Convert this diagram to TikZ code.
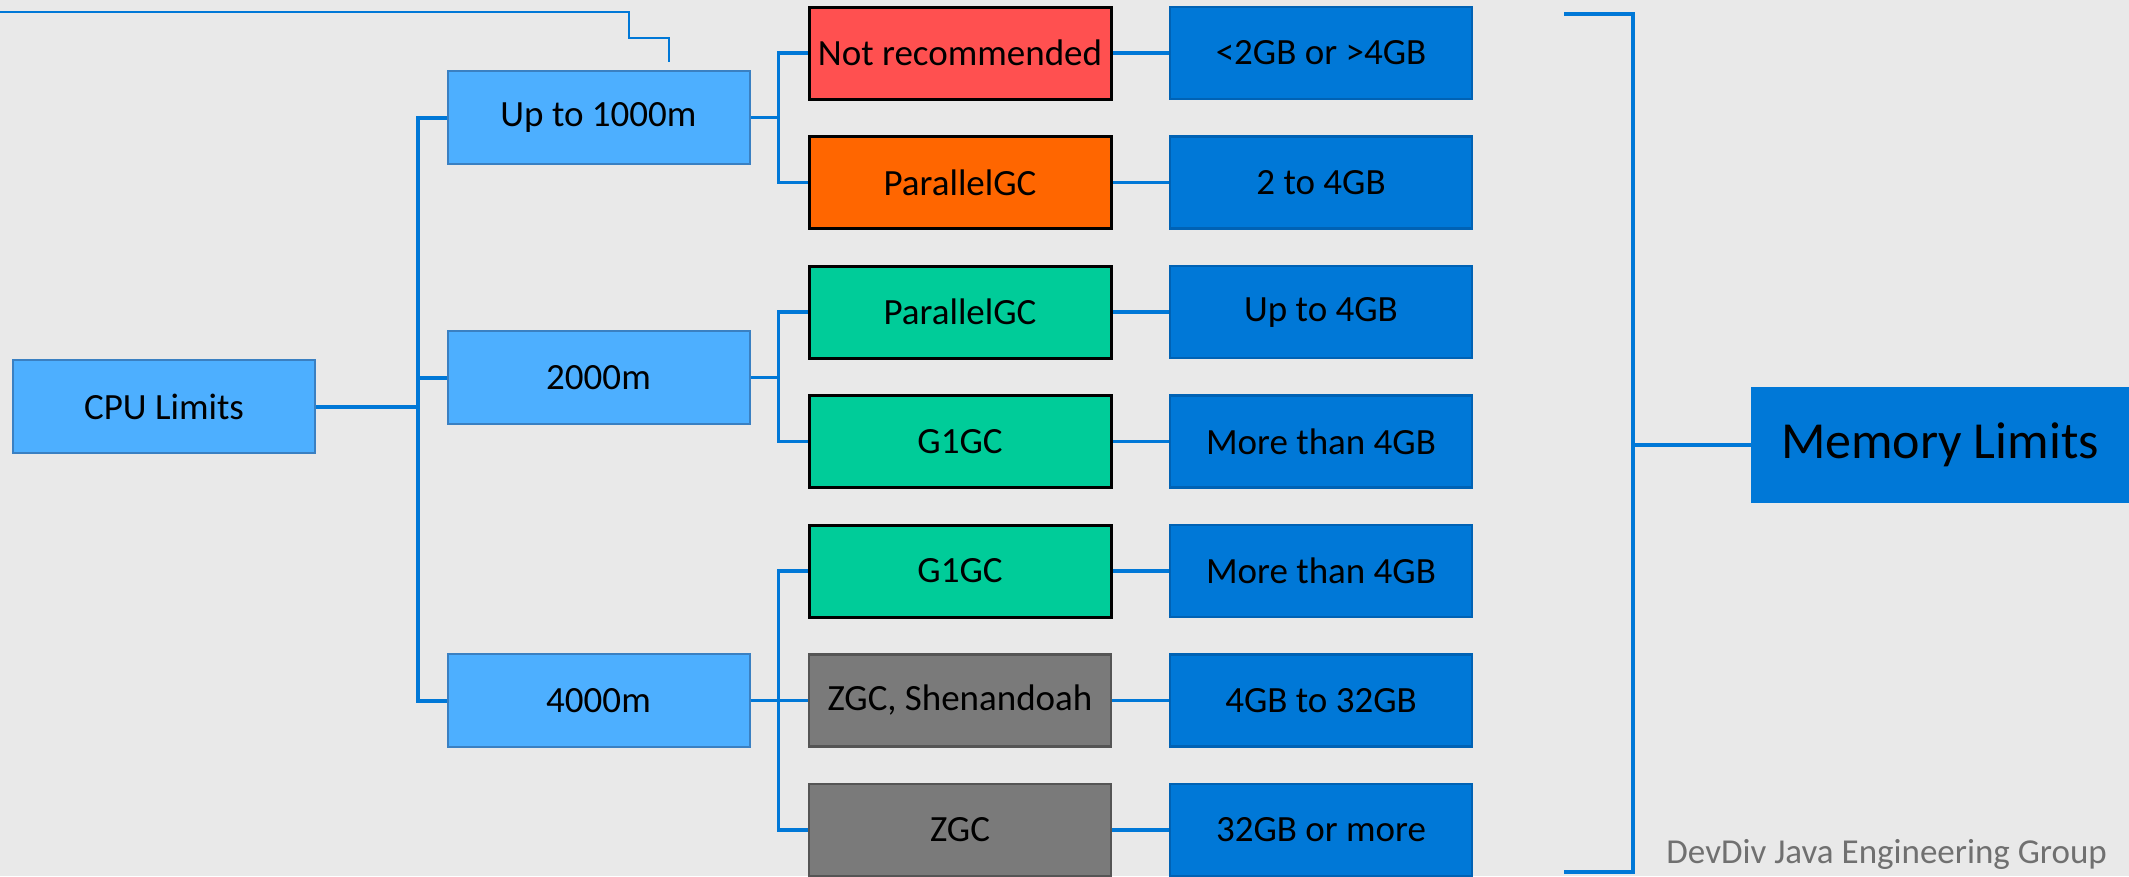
\documentclass[tikz,border=0pt]{standalone}
\usepackage{fontspec}
\setmainfont{Carlito}
\definecolor{pagebg}{HTML}{E9E9E9}
\definecolor{msblue}{HTML}{0078D7}
\definecolor{cpufill}{HTML}{4DAFFF}
\definecolor{cpuedge}{HTML}{3A80C2}
\definecolor{memedge}{HTML}{0062B4}
\definecolor{nrred}{HTML}{FF5050}
\definecolor{porange}{HTML}{FF6600}
\definecolor{ggreen}{HTML}{00CC99}
\definecolor{zgray}{HTML}{7A7A7A}
\definecolor{zedge}{HTML}{555555}
\definecolor{footgray}{HTML}{707070}
\begin{document}
\begin{tikzpicture}[x=1pt,y=-1pt,
  box/.style={rectangle, minimum width=302pt, minimum height=92pt, inner sep=0pt,
    font=\fontsize{37}{44}\selectfont, text=black},
  cpubox/.style={box, minimum height=93pt, fill=cpufill, draw=cpuedge, line width=2pt},
  gcbox/.style={box, draw=black, line width=3pt},
  zgcbox/.style={box, fill=zgray, draw=zedge, line width=2.5pt},
  membox/.style={box, fill=msblue, draw=memedge, line width=2.5pt},
  trunk/.style={draw=msblue, line width=4pt},
  link/.style={draw=msblue, line width=3.5pt},
  hairline/.style={draw=msblue, line width=1.5pt},
]
% canvas
\fill[pagebg] (0,0) rectangle (2129,876);
\useasboundingbox (0,0) rectangle (2129,876);

% CPU side
\node[cpubox] (cpu)  at (164,406.5) {CPU Limits};
\node[cpubox] (up)   at (598.5,117.5) {Up to 1000m};
\node[cpubox] (two)  at (598.5,377.5) {2000m};
\node[cpubox] (four) at (598.5,700.5) {4000m};

% collectors
\node[gcbox, fill=nrred]   (nr)  at (960,53)    {Not recommended};
\node[gcbox, fill=porange] (pa)  at (960,182.5) {ParallelGC};
\node[gcbox, fill=ggreen]  (pb)  at (960,312)   {ParallelGC};
\node[gcbox, fill=ggreen]  (ga)  at (960,441.5) {G1GC};
\node[gcbox, fill=ggreen]  (gb)  at (960,571)   {G1GC};
\node[zgcbox]              (zs)  at (960,700.5) {ZGC, Shenandoah};
\node[zgcbox]              (zz)  at (960,830)   {ZGC};

% memory ranges
\node[membox] (m1) at (1321,53)    {<2GB or >4GB};
\node[membox] (m2) at (1321,182.5) {2 to 4GB};
\node[membox] (m3) at (1321,312)   {Up to 4GB};
\node[membox] (m4) at (1321,441.5) {More than 4GB};
\node[membox] (m5) at (1321,571)   {More than 4GB};
\node[membox] (m6) at (1321,700.5) {4GB to 32GB};
\node[membox] (m7) at (1321,830)   {32GB or more};

\node[rectangle, fill=msblue, minimum width=378pt, minimum height=116pt,
      font=\fontsize{52}{60}\selectfont, text=black] (mem) at (1940,445) {Memory Limits};

\node[anchor=base east, text=footgray, font=\fontsize{35}{40}\selectfont, inner sep=0pt]
  (credit) at (2107,863) {DevDiv Java Engineering Group};

% CPU tree connectors
\draw[trunk] (cpu.east) -- ++(102,0) |- (up.west);
\draw[trunk] (cpu.east) ++(102,0) |- (two.west);
\draw[trunk] (cpu.east) ++(102,0) |- (four.west);

\draw[link] (up.east) -- ++(28,0) |- (nr.west);
\draw[link] (up.east) ++(28,0) |- (pa.west);
\draw[link] (two.east) -- ++(28,0) |- (pb.west);
\draw[link] (two.east) ++(28,0) |- (ga.west);
\draw[link] (four.east) -- ++(28,0) |- (gb.west);
\draw[link] (four.east) -- (zs.west);
\draw[link] (four.east) ++(28,0) |- (zz.west);

% collector to memory
\foreach \g/\m in {nr/m1, pa/m2, pb/m3, ga/m4, gb/m5, zs/m6, zz/m7}
  \draw[link] (\g.east) -- (\m.west);

% right bracket
\coordinate (bkA) at (1564,14);
\coordinate (bkB) at (1633,14);
\coordinate (bkC) at (1633,872);
\coordinate (bkD) at (1564,872);
\draw[trunk] (bkA) -- (bkB) -- (bkC) -- (bkD);
\draw[link] (mem.west) -- (mem.west -| bkB);

% stepped hairline at top left
\coordinate (hA) at (0,12);
\coordinate (hB) at (629,12);
\coordinate (hC) at (629,38);
\coordinate (hD) at (669,38);
\coordinate (hE) at (669,62);
\draw[hairline] (hA) -- (hB) -- (hC) -- (hD) -- (hE);
\end{tikzpicture}
\end{document}
